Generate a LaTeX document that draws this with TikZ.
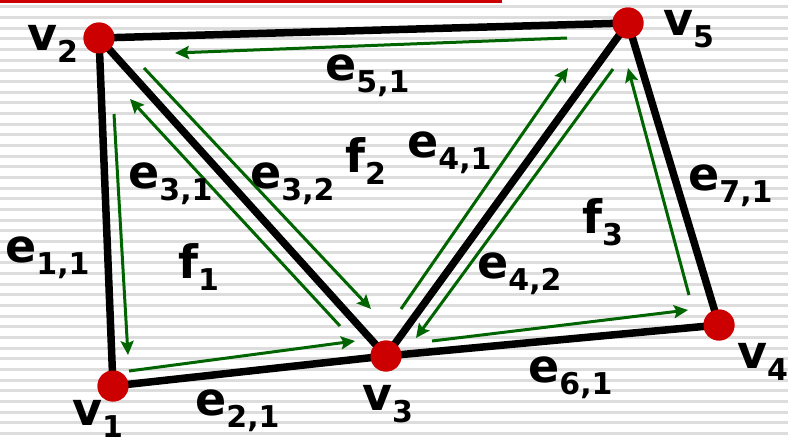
\documentclass[tikz,border=0pt]{standalone}
\usepackage{fontspec}
\setmainfont{DejaVu Sans}
\usetikzlibrary{arrows.meta}

\definecolor{vred}{HTML}{CC0000}
\definecolor{hgreen}{HTML}{006400}
\definecolor{rule}{HTML}{DDDDDD}

% label with a lowered index
\newcommand{\lsub}[2]{#1\raisebox{-12pt}{\fontsize{30pt}{30pt}\selectfont #2}}

\begin{document}
\begin{tikzpicture}[
  x=1pt, y=-1pt,
  vtx/.style={circle, fill=vred, minimum size=31pt, inner sep=0pt},
  gedge/.style={line width=7.5pt},
  walk/.style={draw=hgreen, line width=3pt,
               -{Stealth[length=14pt, width=13pt, inset=2.5pt]}},
  lbl/.style={font=\fontsize{46pt}{46pt}\selectfont\bfseries,
              inner sep=0pt, anchor=base west},
]
  \useasboundingbox (0,0) rectangle (788,440);

  %% ── lined paper ──
  \foreach \k in {0,...,41}
    \draw[rule, line width=3pt] (0,6.7+10.67*\k) -- (788,6.7+10.67*\k);
  \fill[vred] (0,0) rectangle (502,3);

  %% ── vertices ──
  \node[vtx] (v1) at (113,386) {};
  \node[vtx] (v2) at (99,38)   {};
  \node[vtx] (v3) at (386,356) {};
  \node[vtx] (v4) at (719,325) {};
  \node[vtx] (v5) at (628,23)  {};

  %% ── edges ──
  \draw[gedge] (v1.center) -- (v2.center) -- (v5.center) -- (v4.center)
    -- (v3.center) -- (v1.center);
  \draw[gedge] (v2.center) -- (v3.center) -- (v5.center);
  \foreach \v in {v1,v2,v3,v4,v5}
    \node[vtx] at (\v) {};

  %% ── half-edge walks ──
  \coordinate (a1) at (567,38);  \coordinate (b1) at (175,53);
  \coordinate (a2) at (144,68);  \coordinate (b2) at (371,309);
  \coordinate (a3) at (340,326); \coordinate (b3) at (130,99);
  \coordinate (a4) at (114,114); \coordinate (b4) at (128,355);
  \coordinate (a5) at (129,371); \coordinate (b5) at (355,341);
  \coordinate (a6) at (401,309); \coordinate (b6) at (568,68);
  \coordinate (a7) at (613,69);  \coordinate (b7) at (416,338);
  \coordinate (a8) at (432,341); \coordinate (b8) at (688,310);
  \coordinate (a9) at (689,295); \coordinate (b9) at (628,68);
  \foreach \i in {1,...,9}
    \draw[walk] (a\i) -- (b\i);

  %% ── labels ──
  \node[lbl] (lv1) at (72,425)  {\lsub{v}{1}};
  \node[lbl] (lv2) at (27,50)   {\lsub{v}{2}};
  \node[lbl] (lv3) at (362,410) {\lsub{v}{3}};
  \node[lbl] (lv4) at (737,368) {\lsub{v}{4}};
  \node[lbl] (lv5) at (663,35)  {\lsub{v}{5}};

  \node[lbl] (le11) at (5,262)   {\lsub{e}{1,1}};
  \node[lbl] (le21) at (195,415) {\lsub{e}{2,1}};
  \node[lbl] (le31) at (128,188) {\lsub{e}{3,1}};
  \node[lbl] (le32) at (250,188) {\lsub{e}{3,2}};
  \node[lbl] (le41) at (407,157) {\lsub{e}{4,1}};
  \node[lbl] (le42) at (477,278) {\lsub{e}{4,2}};
  \node[lbl] (le51) at (325,80)  {\lsub{e}{5,1}};
  \node[lbl] (le61) at (528,382) {\lsub{e}{6,1}};
  \node[lbl] (le71) at (688,190) {\lsub{e}{7,1}};

  \node[lbl] (lf1) at (178,278) {\lsub{f}{1}};
  \node[lbl] (lf2) at (345,172) {\lsub{f}{2}};
  \node[lbl] (lf3) at (582,233) {\lsub{f}{3}};
\end{tikzpicture}
\end{document}
